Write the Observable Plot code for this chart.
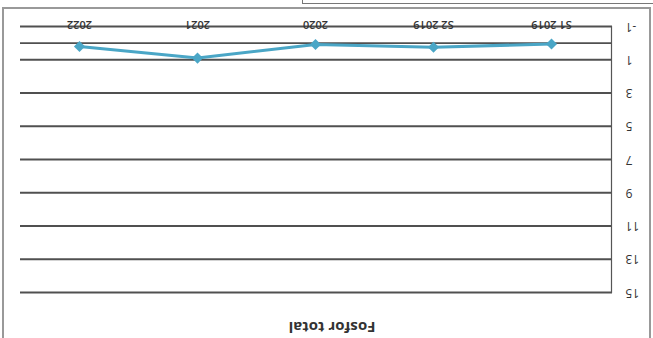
<!DOCTYPE html>
<html><head><meta charset="utf-8">
<script src="https://cdn.jsdelivr.net/npm/d3@7"></script>
<script src="https://cdn.jsdelivr.net/npm/@observablehq/plot@0.6"></script>
<style>
html,body{margin:0;padding:0;background:#fff;overflow:hidden;width:653px;height:338px;}
#page{position:absolute;left:0;top:0;width:653px;height:338px;transform:rotate(180deg);transform-origin:50% 50%;font-family:"Open Sans",sans-serif;background:#fff;}
#box{position:absolute;left:2px;top:0px;width:649px;height:331px;border-left:2px solid #999;border-right:2px solid #999;border-bottom:2px solid #999;box-sizing:border-box;pointer-events:none;}
#edgeH{position:absolute;left:0;top:334px;width:350px;height:0;border-top:1px solid #777;}
#edgeV{position:absolute;left:350px;top:334px;width:0;height:6px;border-left:1px solid #777;}
#title{position:absolute;left:0;top:0;width:642px;text-align:center;font:bold 15px "Open Sans",sans-serif;color:#333;}
#chart{position:absolute;left:0;top:0;}
#chart svg{background:transparent !important;}
</style>
</head><body>
<div id="page">
  <div id="chart"></div>
  <div id="box"></div>
  <div id="edgeH"></div>
  <div id="edgeV"></div>
  <div id="title">Fosfor total</div>
</div>
<script>
const categories = ["S1 2019", "S2 2019", "2020", "2021", "2022"];
const values = [0.05, 0.25, 0.08, 0.9, 0.2];
const yTicks = [-1, 1, 3, 5, 7, 9, 11, 13, 15];

const data = categories.map((c, i) => ({cat: c, v: values[i]}));
const lineColor = "#4aa6c6";

const chart = Plot.plot({
  width: 653,
  height: 338,
  marginLeft: 41,
  marginRight: 20,
  marginTop: 45,
  marginBottom: 27,
  style: {background: "transparent", fontFamily: "Open Sans, sans-serif", fontSize: "11px", color: "#333"},
  x: {type: "point", domain: categories, padding: 0.5, axis: null},
  y: {domain: [-1, 15], axis: null},
  marks: [
    Plot.ruleY(yTicks, {stroke: "#505050", strokeWidth: 1.8}),
    Plot.ruleY([0], {stroke: "#505050", strokeWidth: 1.8}),
    Plot.frame({anchor: "left", stroke: "#555", strokeWidth: 1.2}),
    Plot.axisY({ticks: yTicks, tickSize: 0, tickPadding: 14, fontSize: 12, fill: "#333", label: null, tickFormat: d => String(d)}),
    Plot.text(categories, {x: d => d, y: () => -1, dy: 2, lineAnchor: "middle", fontSize: 11, fontWeight: 600, fill: "#333"}),
    Plot.line(data, {x: "cat", y: "v", stroke: lineColor, strokeWidth: 3}),
    Plot.dot(data, {x: "cat", y: "v", symbol: "diamond2", fill: lineColor, r: 5})
  ]
});
document.getElementById("chart").appendChild(chart);
</script>
</body></html>
